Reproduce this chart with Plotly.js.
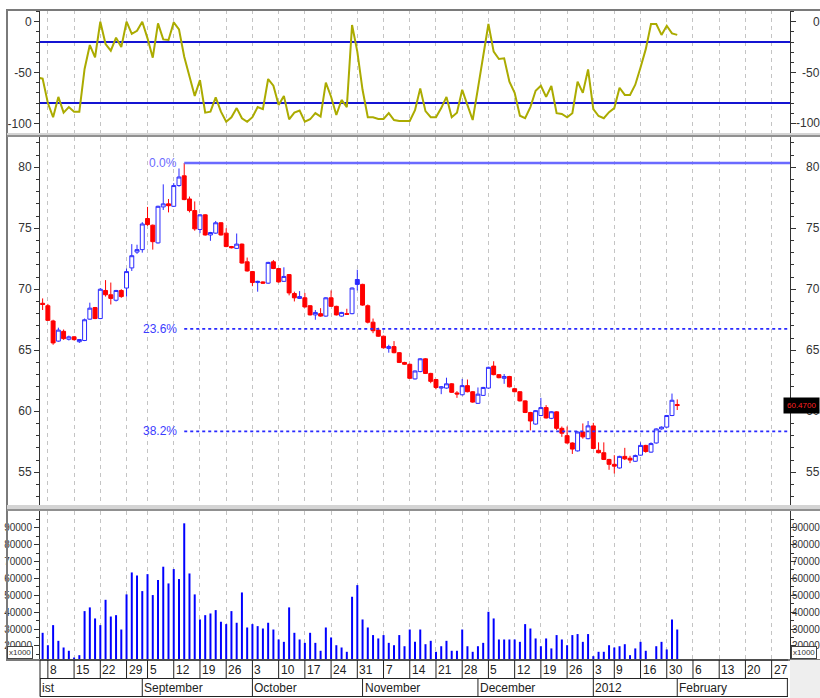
<!DOCTYPE html>
<html><head><meta charset="utf-8">
<script src="https://cdn.plot.ly/plotly-3.0.1.min.js"></script>
<style>html,body{margin:0;padding:0;background:#fff;} #chart{width:820px;height:698px;}</style>
</head><body><div id="chart"></div>
<script>
// ---------------- DATA ----------------
const open = [68.85,68.65,67.4,65.75,66.55,65.9,66.1,65.7,65.8,67.55,
68.5,67.6,69.9,69.55,69.1,69.9,70.1,71.75,73.05,73.25,
75.8,75.25,73.8,76.75,77.0,76.8,78.5,79.3,77.4,76.45,
74.9,76.1,74.45,74.6,75.45,74.6,73.5,73.35,73.7,72.25,
71.45,70.55,70.6,70.5,72.25,71.7,70.65,71.2,69.65,69.25,
69.3,68.65,67.9,68.0,67.8,69.3,68.6,67.8,68.0,68.0,
70.8,70.4,68.65,67.3,66.65,66.15,65.15,65.3,64.8,64.0,
63.85,62.65,63.25,64.3,63.1,62.6,61.9,61.9,62.25,61.5,
61.35,62.1,61.6,60.65,61.3,61.9,63.7,63.0,62.7,62.85,
61.85,61.6,60.85,59.9,58.95,59.65,60.3,59.42,59.95,58.6,
58.0,57.4,56.75,58.3,57.75,58.8,56.8,56.6,56.05,55.65,
55.35,56.3,56.15,55.9,56.4,57.2,56.65,57.4,58.55,58.7,
59.65,60.55];
const high = [69.25,68.8,67.5,66.85,66.7,66.2,66.15,65.9,67.6,68.9,
68.55,70.1,70.75,70.55,69.95,70.0,71.7,73.7,73.65,75.5,
76.75,75.3,76.85,78.6,77.4,78.7,79.9,80.35,77.6,77.2,
76.15,76.15,74.7,75.6,75.5,75.0,73.55,74.57,73.75,72.6,
71.5,70.7,70.65,72.25,72.4,71.75,71.8,71.25,69.8,69.85,
69.7,68.7,68.3,68.45,69.35,69.9,68.65,68.15,68.4,70.15,
71.6,70.45,68.75,67.6,66.85,66.2,65.45,65.75,64.85,64.05,
63.9,63.35,64.35,64.35,63.15,62.65,62.05,62.75,62.3,61.65,
62.65,62.6,61.65,61.95,62.0,63.65,64.1,63.05,63.05,62.9,
61.9,61.65,60.9,59.95,60.1,61.1,60.5,60.0,60.0,58.75,
58.75,57.45,58.35,59.0,59.2,59.05,57.45,57.45,56.1,56.4,
56.35,57.0,56.35,56.45,57.45,57.25,57.45,58.6,58.75,59.7,
61.45,60.97];
const low = [68.3,67.4,65.45,65.7,65.85,65.8,65.8,65.6,65.75,67.5,
67.55,67.55,69.4,68.75,69.0,69.3,69.4,71.5,72.9,73.0,
75.2,73.25,73.75,76.5,76.3,76.75,78.4,77.3,76.3,74.8,
74.6,74.4,73.97,74.55,74.4,73.45,73.35,73.3,72.1,71.45,
70.25,69.8,70.45,70.45,71.65,70.55,70.6,69.5,69.0,69.2,
68.5,67.85,67.5,67.75,67.75,68.55,67.85,67.75,67.9,67.95,
69.9,68.65,67.2,66.4,66.1,65.15,64.8,64.75,63.95,63.8,
62.65,62.6,63.2,63.05,62.3,61.8,61.4,61.85,61.5,61.1,
61.3,61.55,60.7,60.6,61.25,61.85,62.95,62.7,62.25,61.95,
61.55,60.8,59.85,58.43,58.9,59.6,59.4,59.35,58.45,57.9,
57.35,56.5,56.7,57.75,57.7,56.9,56.55,56.0,55.2,54.9,
55.3,56.0,55.75,55.85,56.35,56.6,56.6,57.35,58.5,58.65,
59.6,60.1];
const close = [68.75,67.45,65.6,66.65,65.95,66.1,65.87,65.88,67.5,68.45,
67.6,70.0,69.55,69.25,69.9,69.4,71.45,72.75,73.25,75.35,
75.3,73.9,76.8,77.0,76.85,78.5,79.2,77.35,76.45,74.95,
76.1,74.45,74.65,75.45,74.45,73.5,73.4,73.7,72.15,71.5,
70.55,70.65,70.5,72.2,71.7,70.6,71.05,69.7,69.3,69.4,
68.55,67.9,68.1,67.8,69.3,68.6,67.9,68.1,67.95,70.1,
70.4,68.7,67.3,66.6,66.15,65.2,65.3,64.8,64.0,63.85,
62.7,63.3,64.3,63.1,62.45,61.95,62.0,62.25,61.55,61.42,
62.1,61.6,60.75,61.4,61.95,63.6,63.0,62.75,62.85,62.0,
61.6,60.85,59.9,59.2,60.05,60.3,59.45,59.96,58.6,58.2,
57.4,56.9,58.3,57.9,58.8,56.95,56.6,56.05,55.65,55.5,
56.3,56.1,56.0,56.37,57.2,56.7,57.35,58.55,58.7,59.65,
60.9,60.47];
const volume = [27750,20400,32300,23000,19050,17100,13100,14500,40600,42800,
36250,32300,47300,37400,38200,29700,50500,63500,61700,52450,
62500,50100,59000,66900,57000,65500,59600,92600,62900,50500,
35650,38200,39200,41200,34300,32900,40600,33700,51650,30900,
32900,31700,30300,33700,29700,23800,22400,42800,27750,23800,
21800,27750,21800,17100,30900,25000,20400,19050,16500,49100,
56000,35650,30900,26400,24400,26400,21800,20400,26400,19800,
29700,22400,29700,21000,23000,16500,19800,23000,17100,17100,
29700,19800,16500,19800,21800,40200,36250,23800,23800,23800,
23800,22400,32900,30300,24400,19800,24400,18500,26400,23800,
20400,26400,27000,22400,27000,13900,16500,16500,20400,19050,
19800,21000,14500,18500,22400,17100,10000,19800,22400,17900,
35650,29700];
// oscillator (%R); first value belongs to the bar just before the first visible candle
const oscillator = [-55,
-56,-80,-94,-74,-89.5,-84,-88.5,-88.5,-46.5,-23,
-35,0,-22,-28.5,-15.7,-25,0,-12,-9,0,
-16.4,-35.4,-1.6,-17.4,-18,-0.7,-7.5,-34.4,-52.5,-73,
-57.4,-89.5,-88.5,-74.4,-88.5,-98.4,-94,-85,-95,-98.4,
-94,-84,-86,-56.4,-63,-82,-73,-96,-89.5,-87.5,
-98.4,-96,-90,-93.4,-60,-73.8,-91.8,-77,-84,-3.3,
-29.5,-67,-94,-94,-95.7,-95.7,-90,-96.7,-97.7,-97.7,
-97.7,-87,-65.6,-88,-94,-94,-85,-74,-94,-89.5,
-67,-82,-96.7,-65.6,-34.4,-2.3,-29.5,-36.7,-36,-59,
-70,-92.5,-95,-84,-68,-63,-74,-63.3,-90,-90.8,
-94,-90,-59,-70,-47,-86,-92.8,-95,-89,-85,
-65,-72,-72,-62,-45,-27,-2.3,-2.3,-13,-4,
-11.5,-13];
const oscLevels = [-20, -80];
const fibLabels = ['0.0%', '23.6%', '38.2%'];
const fibLevels = [80.35, 66.75, 58.35];
const dayTickIdx = [1,6,11,16,20,25,30,35,40,45,50,55,60,65,70,75,80,85,90,95,100,105,109,114,119,124,129,134,139];
const dayTickText = ['8','15','22','29','5','12','19','26','3','10','17','24','31','7','14','21','28','5','12','19','26','3','9','16','30','6','13','20','27'];
const monthIdx = [-0.5,19,40,61,83,105,121,142];
const monthText = ['ist','September','October','November','December','2012','February',''];
const oscTicks = [0,-50,-100];
const priceTicks = [55,60,65,70,75,80];
const volTicks = [20000,30000,40000,50000,60000,70000,80000,90000];
const lastPriceText = '60.4700';

// ---------------- LAYOUT HELPERS ----------------
const FONT = '"Liberation Sans Narrow","Arial Narrow","Liberation Sans",Arial,sans-serif';
const ML = 40, MR = 30, MT = 10, MB = 38, W = 820, H = 698;
const PW = W - ML - MR, PH = H - MT - MB;
const px = p => (p - ML) / PW;          // pixel x -> paper
const py = p => (H - MB - p) / PH;      // pixel y -> paper
const xRange = [-0.5, 142.5];
const idx = close.map((_, i) => i);
const oscX = oscillator.map((_, i) => i - 1);

const BLUE = '#2b2bff', RED = '#ff0000';
const isBlue = close.map((c, i) => i > 0 && c >= close[i - 1]);
function pick(arr, flag) { return arr.filter((_, i) => isBlue[i] === flag); }

const traces = [];
[[true, BLUE], [false, RED]].forEach(([flag, col]) => {
  traces.push({
    type: 'candlestick', xaxis: 'x', yaxis: 'y2',
    x: pick(idx, flag), open: pick(open, flag), high: pick(high, flag),
    low: pick(low, flag), close: pick(close, flag),
    increasing: {line: {color: col, width: 1}, fillcolor: '#ffffff'},
    decreasing: {line: {color: col, width: 1}, fillcolor: col},
    whiskerwidth: 0, hoverinfo: 'skip', showlegend: false
  });
});
traces.push({type: 'bar', x: idx, y: volume, xaxis: 'x', yaxis: 'y3',
  marker: {color: '#0000ff', line: {width: 0}}, width: 0.38, hoverinfo: 'skip', showlegend: false});
oscLevels.forEach(l => traces.push({type: 'scatter', mode: 'lines', x: xRange, y: [l, l],
  xaxis: 'x', yaxis: 'y', line: {color: '#1414d2', width: 1.8}, hoverinfo: 'skip', showlegend: false}));
traces.push({type: 'scatter', mode: 'lines', x: oscX, y: oscillator, xaxis: 'x', yaxis: 'y',
  line: {color: '#abab00', width: 2}, hoverinfo: 'skip', showlegend: false});
const peakIdx = high.indexOf(Math.max(...high));
fibLevels.forEach((l, k) => traces.push({type: 'scatter', mode: 'lines', x: [peakIdx, xRange[1]], y: [l, l],
  xaxis: 'x', yaxis: 'y2', line: k === 0 ? {color: '#6a6aff', width: 2.5} : {color: '#2a2aff', width: 1.6, dash: 'dot'},
  hoverinfo: 'skip', showlegend: false}));
// dummy traces so the right-hand axes are drawn
['y4', 'y5', 'y6'].forEach(a => traces.push({type: 'scatter', mode: 'markers', x: [0], y: [a === 'y4' ? -50 : a === 'y5' ? 60 : 50000],
  xaxis: 'x', yaxis: a, marker: {opacity: 0}, hoverinfo: 'skip', showlegend: false}));

const tickFont = {family: FONT, size: 12, color: '#333'};
const volFont = {family: FONT, size: 10, color: '#333'};
function yAx(domain, range, tv, minorD, font, extra) {
  return Object.assign({domain, range, tickmode: 'array', tickvals: tv, ticktext: tv.map(String), ticks: 'outside', ticklen: 5,
    tickcolor: '#333', showline: true, linecolor: '#333', linewidth: 1, showgrid: false, zeroline: false,
    tickfont: font, fixedrange: true, anchor: 'x',
    minor: {tickmode: 'linear', tick0: 0, dtick: minorD, ticks: 'outside', ticklen: 3, tickcolor: '#333', showgrid: false}}, extra || {});
}
const dOsc = [py(133), 1], dPrice = [py(508), py(137)], dVol = [0, py(511)];
const rOsc = [-109.5, 11.5], rPrice = [52.07, 82.48], rVol = [11640, 99900];

const shapes = [];
// outer frame & panel separators
shapes.push({type: 'rect', xref: 'paper', yref: 'paper', x0: px(7), x1: px(823), y0: py(660), y1: py(10),
  line: {color: '#7a7a7a', width: 2}, layer: 'above'});
[[133, 137], [505, 511]].forEach(([a, b]) => {
  shapes.push({type: 'rect', xref: 'paper', yref: 'paper', x0: px(7), x1: px(823), y0: py(b), y1: py(a),
    fillcolor: '#d4d4d4', line: {width: 0}, layer: 'above'});
  shapes.push({type: 'line', xref: 'paper', yref: 'paper', x0: px(7), x1: px(823), y0: py(b - 1), y1: py(b - 1),
    line: {color: '#7a7a7a', width: 1.5}, layer: 'above'});
});
// date rows
shapes.push({type: 'rect', xref: 'paper', yref: 'paper', x0: px(790), x1: px(822), y0: py(699), y1: py(660),
  fillcolor: '#eeeeee', line: {width: 0}});
[660, 678.5, 696.5].forEach(y => shapes.push({type: 'line', xref: 'paper', yref: 'paper', x0: 0, x1: px(788),
  y0: py(y), y1: py(y), line: {color: '#222', width: 1}}));
shapes.push({type: 'line', xref: 'paper', yref: 'paper', x0: 0, x1: 0, y0: py(696.5), y1: py(660), line: {color: '#222', width: 1}});
dayTickIdx.forEach(t => shapes.push({type: 'line', xref: 'x', yref: 'paper', x0: t, x1: t, y0: py(678.5), y1: py(660),
  line: {color: '#222', width: 1}}));
monthIdx.forEach(t => shapes.push({type: 'line', xref: 'x', yref: 'paper', x0: t, x1: t, y0: py(696.5), y1: py(678.5),
  line: {color: '#222', width: 1}}));

const annotations = [];
const axFont = {family: FONT, size: 12, color: '#222'};
dayTickIdx.forEach((t, i) => annotations.push({xref: 'x', yref: 'paper', x: t, y: py(669.5), xanchor: 'left', yanchor: 'middle',
  xshift: 0, text: dayTickText[i], showarrow: false, font: axFont}));
monthIdx.forEach((t, i) => { if (monthText[i]) annotations.push({xref: 'x', yref: 'paper', x: t, y: py(687.5), xanchor: 'left',
  yanchor: 'middle', text: monthText[i], showarrow: false, font: axFont}); });
fibLevels.forEach((l, k) => annotations.push({xref: 'x', yref: 'y2', x: peakIdx, y: l, xanchor: 'right', yanchor: 'middle',
  xshift: -5, text: fibLabels[k], showarrow: false, font: {family: FONT, size: 12, color: k === 0 ? '#6a6aff' : '#3c3cff'}}));
[[oscTicks, 'y', tickFont], [priceTicks, 'y2', tickFont], [volTicks, 'y3', volFont]].forEach(([tv, ya, f]) => tv.forEach(v =>
  annotations.push({xref: 'paper', yref: ya, x: px(822), y: v, xanchor: 'right', yanchor: 'middle', text: String(v),
    showarrow: false, font: f})));
[px(7), px(791)].forEach(x => annotations.push({xref: 'paper', yref: 'paper', x: x, y: py(659), xanchor: 'left', yanchor: 'bottom',
  text: 'x1000', showarrow: false, font: {family: FONT, size: 8, color: '#333'}, bgcolor: '#ffffff', bordercolor: '#444',
  borderwidth: 1, borderpad: 1}));
annotations.push({xref: 'paper', yref: 'y2', x: px(820), y: close[close.length - 1], xanchor: 'right', yanchor: 'middle',
  text: lastPriceText, showarrow: false, font: {family: FONT, size: 8, color: '#ff2020'}, bgcolor: '#000000', borderpad: 3});

const layout = {
  width: W, height: H, margin: {l: ML, r: MR, t: MT, b: MB, pad: 0},
  paper_bgcolor: '#ffffff', plot_bgcolor: '#ffffff', showlegend: false, hovermode: false,
  boxgap: 0.25, boxgroupgap: 0,
  xaxis: {range: xRange, tickmode: 'array', tickvals: dayTickIdx, showticklabels: false, ticks: '',
    showgrid: true, gridcolor: '#c4c4c4', griddash: '4px,4px', gridwidth: 1, zeroline: false, showline: false,
    rangeslider: {visible: false}, anchor: 'y3', fixedrange: true},
  yaxis: yAx(dOsc, rOsc, oscTicks, 10, tickFont),
  yaxis2: yAx(dPrice, rPrice, priceTicks, 1, tickFont),
  yaxis3: yAx(dVol, rVol, volTicks, 5000, volFont),
  yaxis4: yAx(dOsc, rOsc, oscTicks, 10, tickFont, {overlaying: 'y', side: 'right', showticklabels: false}),
  yaxis5: yAx(dPrice, rPrice, priceTicks, 1, tickFont, {overlaying: 'y2', side: 'right', showticklabels: false}),
  yaxis6: yAx(dVol, rVol, volTicks, 5000, volFont, {overlaying: 'y3', side: 'right', showticklabels: false}),
  shapes, annotations
};
Plotly.newPlot('chart', traces, layout, {staticPlot: true, displayModeBar: false});
</script></body></html>
